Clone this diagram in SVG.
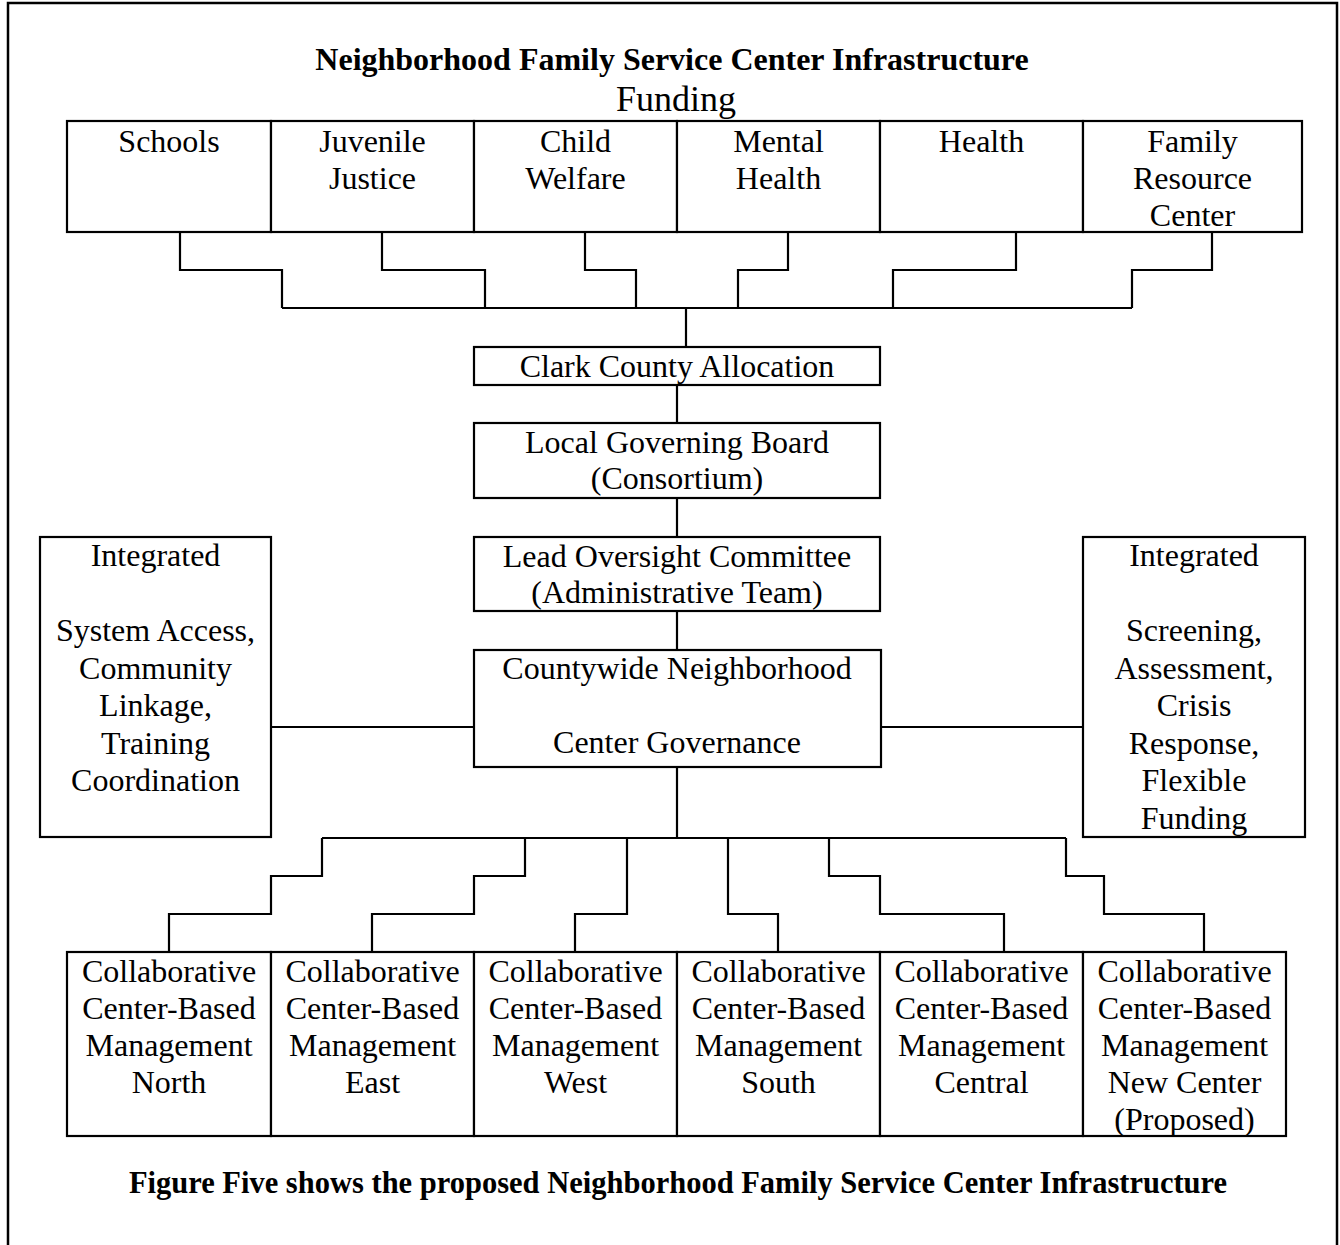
<svg xmlns="http://www.w3.org/2000/svg" width="1340" height="1245" viewBox="0 0 1340 1245">
<style>
.box{fill:#fff;stroke:#000;stroke-width:2.2}
.frame{fill:none;stroke:#000;stroke-width:2.5}
.c{fill:none;stroke:#000;stroke-width:2.2}
text{font-family:"Liberation Serif","Times New Roman",serif;font-size:32px;fill:#000;text-anchor:middle}
.b{font-weight:bold}
.f{font-size:36px}
.cap{font-size:30.5px}
</style>
<rect width="1340" height="1245" fill="#fff"/>
<rect class="frame" x="8" y="3" width="1329" height="1260"/>
<g id="title">
<text class="b" x="672" y="70">Neighborhood Family Service Center Infrastructure</text>
<text class="f" x="676" y="111">Funding</text>
</g>
<g id="connectors">
<path class="c" d="M180,232V270H282V308 M382,232V270H485V308 M585,232V270H636V308 M788,232V270H738V308 M1016,232V270H893V308 M1212,232V270H1132V308 M282,308H1132 M686,308V347"/>
<path class="c" d="M677,385V423 M677,498V537 M677,611V650"/>
<path class="c" d="M271,727H474 M881,727H1083"/>
<path class="c" d="M677,767V838 M322,838H1066"/>
<path class="c" d="M322,838V876H271V914H169V952 M525,838V876H474V914H372V952 M627,838V914H575V952 M728,838V914H778V952 M829,838V876H880V914H1004V952 M1066,838V876H1104V914H1204V952"/>
</g>
<g id="schools"><rect class="box" x="67" y="121" width="204" height="111"/><text x="169" y="152">Schools</text></g>
<g id="juvenile-justice"><rect class="box" x="271" y="121" width="203" height="111"/><text x="372.5" y="152">Juvenile</text><text x="372.5" y="189">Justice</text></g>
<g id="child-welfare"><rect class="box" x="474" y="121" width="203" height="111"/><text x="575.5" y="152">Child</text><text x="575.5" y="189">Welfare</text></g>
<g id="mental-health"><rect class="box" x="677" y="121" width="203" height="111"/><text x="778.5" y="152">Mental</text><text x="778.5" y="189">Health</text></g>
<g id="health"><rect class="box" x="880" y="121" width="203" height="111"/><text x="981.5" y="152">Health</text></g>
<g id="family-resource-center"><rect class="box" x="1083" y="121" width="219" height="111"/><text x="1192.5" y="152">Family</text><text x="1192.5" y="189">Resource</text><text x="1192.5" y="226">Center</text></g>
<g id="clark-county"><rect class="box" x="474" y="347" width="406" height="38"/><text x="677" y="377">Clark County Allocation</text></g>
<g id="local-governing-board"><rect class="box" x="474" y="423" width="406" height="75"/><text x="677" y="453">Local Governing Board</text><text x="677" y="489">(Consortium)</text></g>
<g id="lead-oversight"><rect class="box" x="474" y="537" width="406" height="74"/><text x="677" y="567">Lead Oversight Committee</text><text x="677" y="603">(Administrative Team)</text></g>
<g id="countywide"><rect class="box" x="474" y="650" width="407" height="117"/><text x="677" y="679">Countywide Neighborhood</text><text x="677" y="753">Center Governance</text></g>
<g id="integrated-left"><rect class="box" x="40" y="537" width="231" height="300"/><text x="155.5" y="566">Integrated</text><text x="155.5" y="641">System Access,</text><text x="155.5" y="678.5">Community</text><text x="155.5" y="716">Linkage,</text><text x="155.5" y="753.5">Training</text><text x="155.5" y="791">Coordination</text></g>
<g id="integrated-right"><rect class="box" x="1083" y="537" width="222" height="300"/><text x="1194" y="566">Integrated</text><text x="1194" y="641">Screening,</text><text x="1194" y="678.5">Assessment,</text><text x="1194" y="716">Crisis</text><text x="1194" y="753.5">Response,</text><text x="1194" y="791">Flexible</text><text x="1194" y="828.5">Funding</text></g>
<g id="cbm-north"><rect class="box" x="67" y="952" width="204" height="184"/><text x="169" y="982">Collaborative</text><text x="169" y="1019">Center-Based</text><text x="169" y="1056">Management</text><text x="169" y="1093">North</text></g>
<g id="cbm-east"><rect class="box" x="271" y="952" width="203" height="184"/><text x="372.5" y="982">Collaborative</text><text x="372.5" y="1019">Center-Based</text><text x="372.5" y="1056">Management</text><text x="372.5" y="1093">East</text></g>
<g id="cbm-west"><rect class="box" x="474" y="952" width="203" height="184"/><text x="575.5" y="982">Collaborative</text><text x="575.5" y="1019">Center-Based</text><text x="575.5" y="1056">Management</text><text x="575.5" y="1093">West</text></g>
<g id="cbm-south"><rect class="box" x="677" y="952" width="203" height="184"/><text x="778.5" y="982">Collaborative</text><text x="778.5" y="1019">Center-Based</text><text x="778.5" y="1056">Management</text><text x="778.5" y="1093">South</text></g>
<g id="cbm-central"><rect class="box" x="880" y="952" width="203" height="184"/><text x="981.5" y="982">Collaborative</text><text x="981.5" y="1019">Center-Based</text><text x="981.5" y="1056">Management</text><text x="981.5" y="1093">Central</text></g>
<g id="cbm-new"><rect class="box" x="1083" y="952" width="203" height="184"/><text x="1184.5" y="982">Collaborative</text><text x="1184.5" y="1019">Center-Based</text><text x="1184.5" y="1056">Management</text><text x="1184.5" y="1093">New Center</text><text x="1184.5" y="1130">(Proposed)</text></g>
<g id="caption"><text class="b cap" x="678" y="1193">Figure Five shows the proposed Neighborhood Family Service Center Infrastructure</text></g>
</svg>
